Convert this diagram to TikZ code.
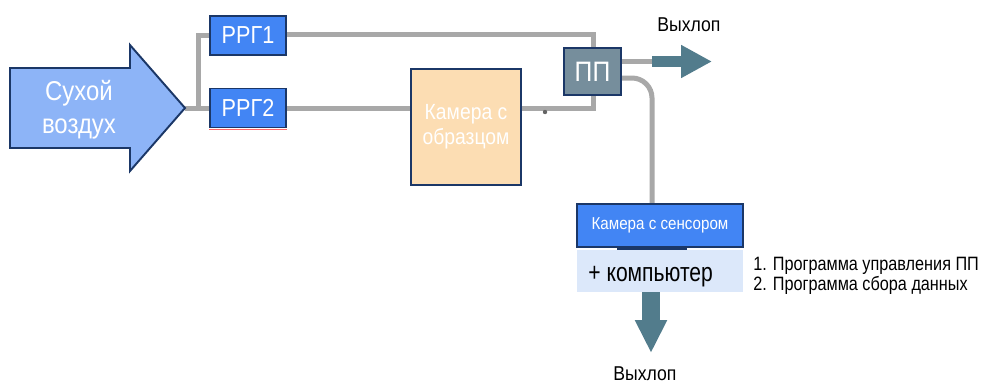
\documentclass[tikz,border=0pt]{standalone}
\usepackage{fontspec}
\setmainfont{Liberation Sans}[FakeStretch=0.88]
\newfontfamily\narrowfont{Liberation Sans}[FakeStretch=0.84]
\newfontfamily\tightfont{Liberation Sans}[FakeStretch=0.8]
\usetikzlibrary{arrows.meta,backgrounds}
\newdimen\pxu \pxu=0.02cm
\definecolor{navy}{HTML}{1B3767}
\definecolor{airblue}{HTML}{8DB4F7}
\definecolor{rrgblue}{HTML}{4285F4}
\definecolor{peach}{HTML}{FCDDB3}
\definecolor{slate}{HTML}{768E9C}
\definecolor{exhaust}{HTML}{527C8C}
\definecolor{pale}{HTML}{DCE8FA}
\definecolor{pipegrey}{HTML}{A8A8A8}
\tikzset{
  unitbox/.style={draw=navy, line width=1.1pt, inner sep=0pt},
  rrgbox/.style={unitbox, fill=rrgblue, text=white, minimum width=76\pxu, minimum height=39\pxu,
    font=\fontsize{14}{17}\selectfont},
  pipe/.style={draw=pipegrey, line width=5\pxu},
  outflow/.style={draw=exhaust, line width=11\pxu, -{Triangle[width=17.6pt, length=17.6pt]}},
  outlabel/.style={font=\fontsize{11.4}{13}\selectfont, text=black, inner sep=0pt, anchor=base},
}
\begin{document}
\begin{tikzpicture}[x=0.02cm, y=-0.02cm]
\useasboundingbox (0,0) rectangle (982,383);

% dry air inlet arrow
\draw[navy, line width=1.1pt, fill=airblue]
  (10,68) -- (130,68) -- (130,45) -- (185,108) -- (130,171) -- (130,148) -- (10,148) -- cycle;
\node[text=white, align=center, font=\fontsize{15.5}{19}\selectfont] (air) at (79,110) {Сухой\\воздух};
\coordinate (airtip) at (185,108);

% flow controllers
\node[rrgbox] (rrg1) at (248,35.5) {РРГ1};
\node[rrgbox] (rrg2) at (248,108) {РРГ2};
\draw[color=red!45!pink, line width=1\pxu] ([yshift=-1.5\pxu]rrg2.south west) -- ([yshift=-1.5\pxu]rrg2.south east);

% sample chamber
\node[unitbox, fill=peach, text=white, minimum width=110\pxu, minimum height=116\pxu, align=center,
  font=\fontsize{12.5}{14.2}\selectfont] (cam) at (466,127) {Камера с\\образцом};

% switching valve
\node[unitbox, fill=slate, text=white, minimum width=57\pxu, minimum height=47\pxu,
  font=\fontsize{16}{18}\selectfont] (pp) at (592.5,71.5) {ПП};

% sensor chamber and computer
\node[unitbox, fill=rrgblue, text=white, minimum width=166\pxu, minimum height=43\pxu,
  font=\fontsize{9.8}{12}\selectfont] (sens) at (660,225.5) {Камера с сенсором};
\fill[navy] (617,247) rectangle (687,250);
\node[fill=pale, minimum width=166\pxu, minimum height=42\pxu, inner sep=0pt] (pc) at (660,271) {};
\node[anchor=base west, inner sep=0pt, font=\tightfont\fontsize{15}{17}\selectfont] (pctext) at (588,281) {+ компьютер};

% software list (base anchor sits on the last line)
\node[anchor=base west, align=left, inner sep=0pt, font=\narrowfont\fontsize{11}{10.2}\selectfont] (soft) at (753,290)
  {1. Программа управления ПП\\2. Программа сбора данных};

% exhaust labels
\node[outlabel] (out1) at (689,31) {Выхлоп};
\node[outlabel] (out2) at (645,380) {Выхлоп};

% gas lines
\coordinate (split) at (198,108);
\coordinate (ne) at (593,34);
\coordinate (se) at (593,108);
\coordinate (ex1) at (652,61.5);
\coordinate (ex1tip) at (712,61.5);
\coordinate (bend) at (652,78);
\coordinate (ex2) at (651,292);
\coordinate (ex2tip) at (651,353);
\begin{scope}[on background layer]
  \draw[pipe] (airtip) -- (rrg2.west);
  \draw[pipe] (split) |- (rrg1.west);
  \draw[pipe] (rrg1.east |- ne) -- (ne) -- (se) -- (cam.east |- se);
  \draw[pipe] (rrg2.east) -- (cam.west |- rrg2.east);
  \draw[pipe] (pp.east |- ex1) -- (ex1);
  \draw[pipe, rounded corners=20\pxu] (pp.east |- bend) -- (bend) -- (sens.north -| bend);
\end{scope}
\fill[pipegrey!60!black] (545,112) circle (2.2);

% exhaust arrows
\draw[outflow] (ex1) -- (ex1tip);
\draw[outflow, -{Triangle[width=17pt, length=18.7pt]}, line width=18\pxu] (pc.south -| ex2) -- (ex2tip);
\end{tikzpicture}
\end{document}
